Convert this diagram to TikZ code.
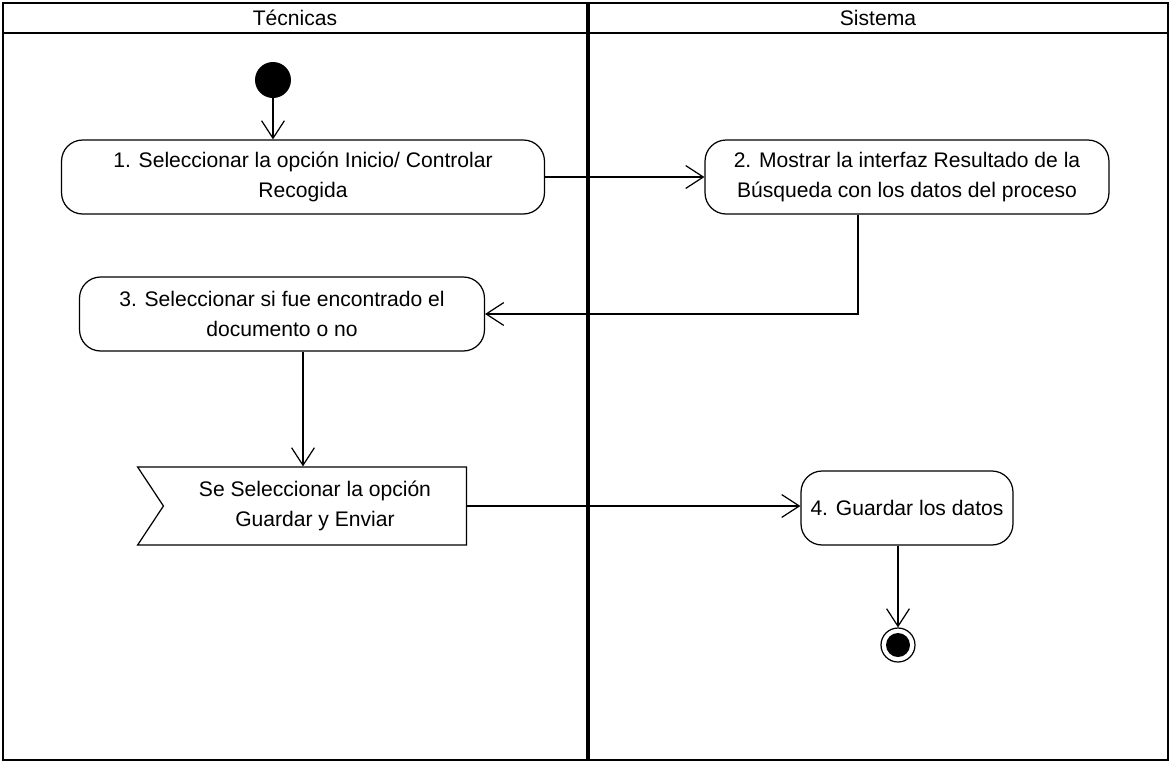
\documentclass[tikz,border=0pt]{standalone}
\usepackage{fontspec}
\setmainfont{Liberation Sans}
\usetikzlibrary{positioning, arrows.meta, shapes.symbols}

\begin{document}
\begin{tikzpicture}[
    x=0.02cm, y=-0.02cm,
    font=\fontsize{12}{17}\selectfont,
    accion/.style={
        rectangle,
        draw=black,
        rounded corners=12pt,
        line width=0.7pt,
        minimum height=1.48cm,
        align=center
    },
    senal/.style={
        signal,
        signal from=west,
        signal to=nowhere,
        signal pointer angle=113,
        draw=black,
        line width=0.7pt,
        minimum width=6.58cm,
        minimum height=1.56cm,
        align=center
    },
    flujo/.style={-{Straight Barb[length=10pt,width=13pt]}, line width=0.7pt},
    carril/.style={draw=black, line width=1.5pt}
]

\useasboundingbox (0,0) rectangle (1171,762);

% Swimlanes
\draw[carril] (3,3) rectangle (1168,760);
\draw[carril] (3,33) -- (1168,33);
\draw[carril, line width=2pt] (588,3) -- (588,760);
\node (tecnicas) at (295,18) {Técnicas};
\node (sistema) at (878,18) {Sistema};

% Actividades
\node[circle, fill=black, minimum size=0.72cm, inner sep=0pt] (inicio) at (273,80) {};
\node[accion, minimum width=9.66cm] (sel) at (303,177) {1. Seleccionar la opción Inicio/ Controlar\\Recogida};
\node[accion, minimum width=8.08cm] (mostrar) at (907,177) {2. Mostrar la interfaz Resultado de la\\Búsqueda con los datos del proceso};
\node[accion, minimum width=8.1cm] (encontrado) at (282,314) {3. Seleccionar si fue encontrado el\\documento o no};
\node[senal] (guardarenviar) at (315,506) {Se Seleccionar la opción\\Guardar y Enviar};
\node[accion, minimum width=4.24cm] (guardar) at (907,508) {4. Guardar los datos};
\node[circle, draw=black, line width=0.7pt, minimum size=0.68cm, inner sep=0pt] (fin) at (898,645) {};
\fill (fin.center) circle[radius=0.24cm];

% Flujos
\coordinate (codo) at (858,314);
\draw[flujo] (inicio.south) -- (inicio.south |- sel.north);
\draw[flujo] (sel.east) -- (mostrar.west);
\draw[flujo] (codo |- mostrar.south) -- (codo) -- (encontrado.east);
\draw[flujo] (sel.center |- encontrado.south) -- (sel.center |- guardarenviar.north);
\draw[flujo] (guardarenviar.east) -- (guardarenviar.east -| guardar.west);
\draw[flujo] (guardar.south -| fin.north) -- (fin.north);

\end{tikzpicture}
\end{document}
